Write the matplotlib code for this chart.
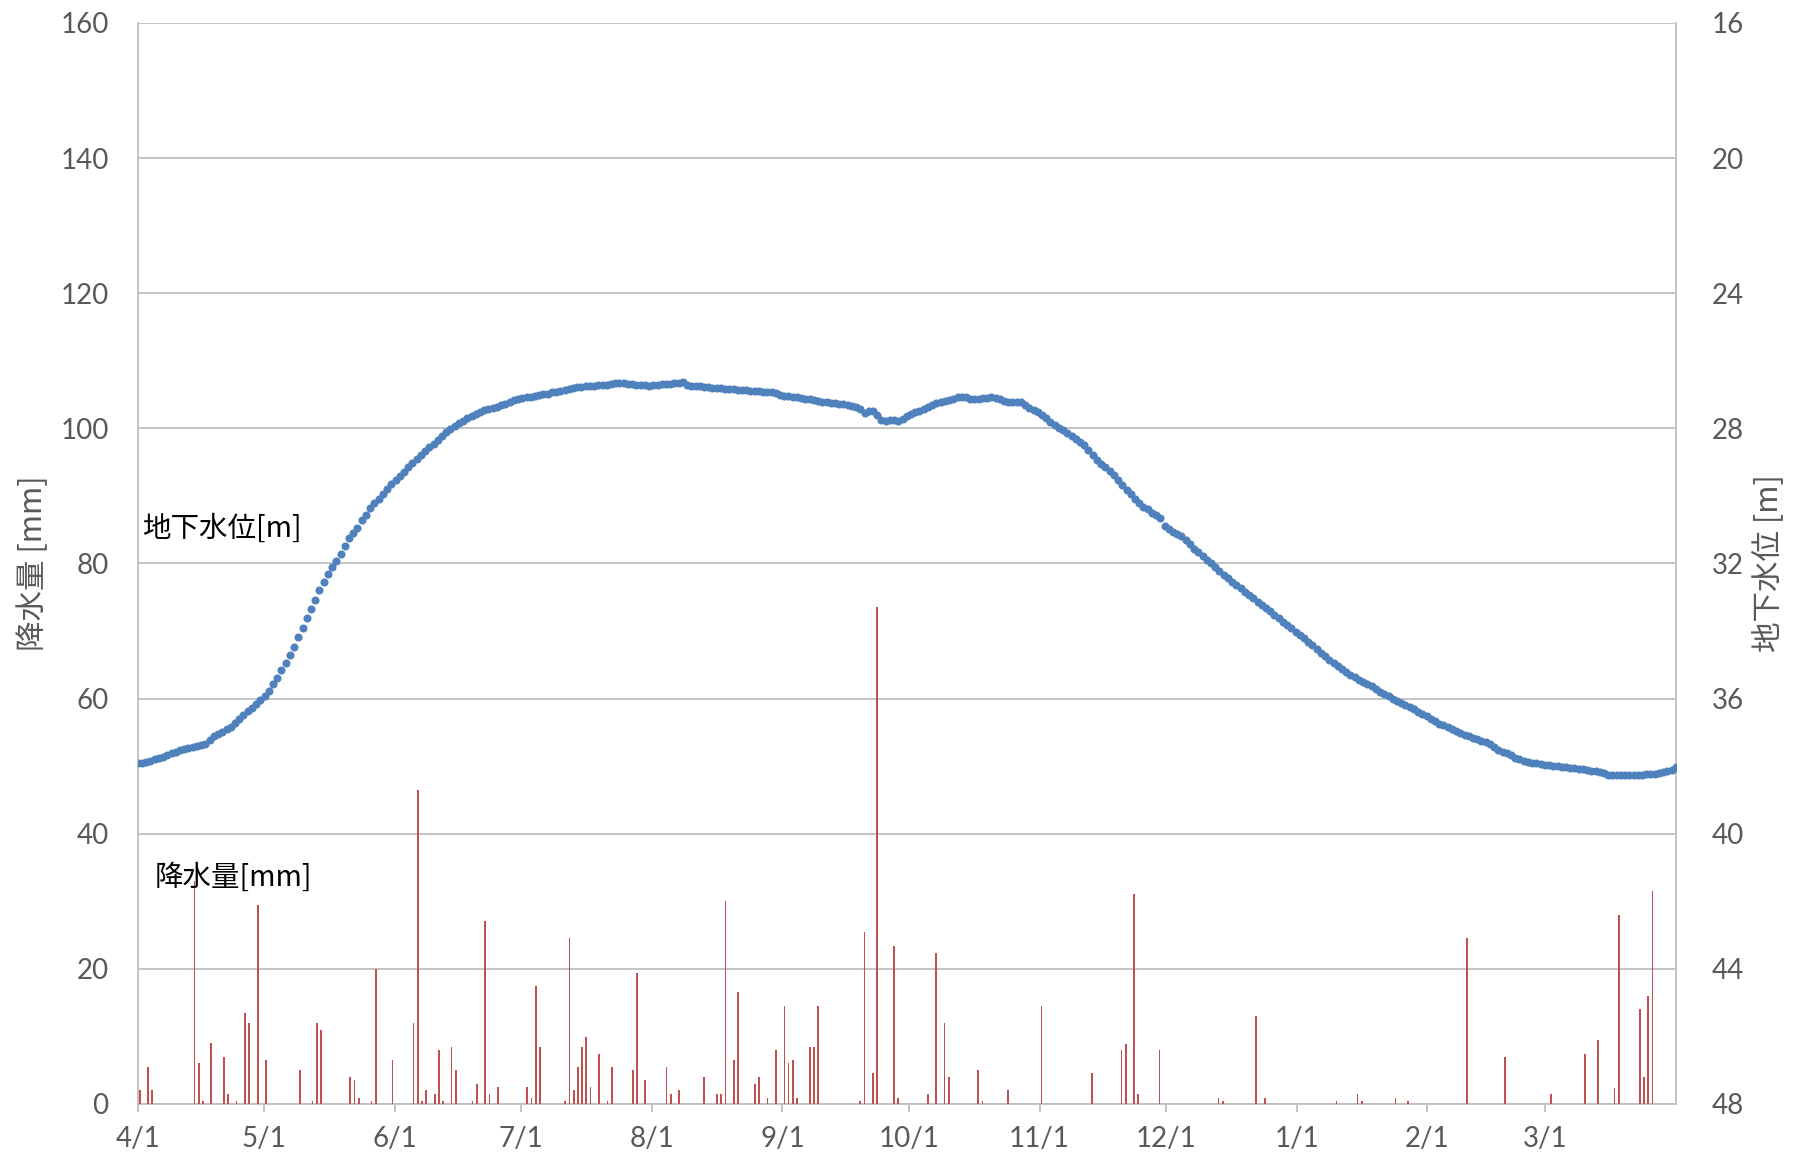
import numpy as np
import matplotlib
matplotlib.use("Agg")
import matplotlib.pyplot as plt

plt.rcParams['font.family'] = ['Lato', 'Noto Sans CJK JP', 'DejaVu Sans']

# month ticks (days from 4/1)
month_days = [0, 30, 61, 91, 122, 153, 183, 214, 244, 275, 306, 334]
month_labels = ['4/1', '5/1', '6/1', '7/1', '8/1', '9/1', '10/1', '11/1', '12/1', '1/1', '2/1', '3/1']

# daily precipitation (only rainy days): day index from 4/1, mm
rain_day = [0, 2, 3, 13, 14, 15, 17, 20, 21, 23, 25, 26, 28, 30, 38, 41, 42, 43, 50, 51,
            52, 55, 56, 60, 65, 66, 67, 68, 70, 71, 72, 74, 75, 79, 80, 82, 83, 85, 92, 93,
            94, 95, 101, 102, 103, 104, 105, 106, 107, 109, 111, 112, 117, 118, 120, 125, 126, 128, 134, 137,
            138, 139, 141, 142, 146, 147, 149, 151, 153, 154, 155, 156, 159, 160, 161, 171, 172, 174, 175, 179,
            180, 187, 189, 191, 192, 199, 200, 206, 214, 226, 233, 234, 236, 237, 242, 256, 257, 265, 267, 284,
            289, 290, 298, 301, 315, 324, 335, 343, 346, 350, 351, 356, 357, 358, 359]
rain_mm = [2.0, 5.5, 2.0, 33.0, 6.0, 0.4, 9.0, 7.0, 1.4, 0.4, 13.5, 12.0, 29.5, 6.5, 5.0, 0.4, 12.0, 10.9, 4.0, 3.5,
           0.9, 0.4, 20.0, 6.5, 12.0, 46.5, 0.4, 2.0, 1.4, 8.0, 0.4, 8.4, 5.0, 0.4, 2.9, 27.0, 1.4, 2.5, 2.5, 0.9,
           17.4, 8.4, 0.4, 24.5, 2.0, 5.5, 8.4, 9.9, 2.5, 7.4, 0.4, 5.5, 5.0, 19.4, 3.5, 5.5, 1.4, 2.0, 4.0, 1.4,
           1.4, 30.0, 6.5, 16.5, 2.9, 4.0, 0.9, 8.0, 14.5, 6.0, 6.5, 0.9, 8.4, 8.4, 14.5, 0.4, 25.5, 4.5, 73.5, 23.4,
           0.9, 1.4, 22.4, 12.0, 4.0, 5.0, 0.4, 2.0, 14.5, 4.5, 8.0, 8.9, 31.0, 1.4, 8.0, 0.9, 0.4, 13.0, 0.9, 0.4,
           1.4, 0.4, 0.9, 0.4, 24.5, 7.0, 1.4, 7.4, 9.4, 2.4, 27.9, 14.0, 4.0, 15.9, 31.5]

# daily groundwater level [m], 4/1 .. 3/31
gw_level = [
    37.92, 37.90, 37.87, 37.84, 37.80, 37.76, 37.72, 37.67, 37.62, 37.57,
    37.52, 37.49, 37.46, 37.43, 37.41, 37.38, 37.36, 37.24, 37.12, 37.05,
    36.98, 36.91, 36.83, 36.73, 36.62, 36.50, 36.38, 36.27, 36.16, 36.04,
    35.93, 35.78, 35.58, 35.38, 35.17, 34.96, 34.72, 34.46, 34.18, 33.90,
    33.62, 33.36, 33.08, 32.80, 32.54, 32.31, 32.12, 31.92, 31.71, 31.49,
    31.26, 31.10, 30.94, 30.72, 30.56, 30.36, 30.22, 30.08, 29.94, 29.80,
    29.65, 29.52, 29.40, 29.28, 29.16, 29.04, 28.92, 28.80, 28.68, 28.56,
    28.45, 28.34, 28.23, 28.12, 28.03, 27.94, 27.85, 27.77, 27.70, 27.63,
    27.57, 27.51, 27.47, 27.43, 27.40, 27.36, 27.32, 27.27, 27.22, 27.17,
    27.14, 27.11, 27.08, 27.06, 27.04, 27.02, 26.99, 26.97, 26.94, 26.92,
    26.89, 26.86, 26.83, 26.81, 26.79, 26.78, 26.76, 26.75, 26.74, 26.73,
    26.72, 26.71, 26.69, 26.67, 26.66, 26.67, 26.68, 26.70, 26.71, 26.72,
    26.73, 26.74, 26.72, 26.71, 26.70, 26.69, 26.68, 26.66, 26.65, 26.64,
    26.72, 26.74, 26.75, 26.76, 26.77, 26.78, 26.80, 26.81, 26.82, 26.83,
    26.84, 26.85, 26.86, 26.87, 26.88, 26.89, 26.90, 26.91, 26.92, 26.93,
    26.94, 26.95, 27.01, 27.04, 27.04, 27.06, 27.08, 27.10, 27.12, 27.14,
    27.17, 27.19, 27.22, 27.23, 27.24, 27.26, 27.27, 27.28, 27.31, 27.34,
    27.38, 27.44, 27.54, 27.50, 27.48, 27.62, 27.74, 27.77, 27.76, 27.76,
    27.78, 27.72, 27.65, 27.58, 27.53, 27.48, 27.44, 27.38, 27.30, 27.26,
    27.22, 27.19, 27.16, 27.12, 27.08, 27.06, 27.08, 27.12, 27.13, 27.14,
    27.11, 27.09, 27.08, 27.10, 27.14, 27.20, 27.21, 27.21, 27.22, 27.23,
    27.30, 27.40, 27.47, 27.53, 27.60, 27.70, 27.80, 27.90, 27.98, 28.06,
    28.14, 28.23, 28.32, 28.41, 28.50, 28.65, 28.80, 28.94, 29.05, 29.16,
    29.27, 29.38, 29.53, 29.68, 29.82, 29.95, 30.08, 30.20, 30.32, 30.40,
    30.50, 30.58, 30.66, 30.90, 30.98, 31.06, 31.14, 31.20, 31.32, 31.44,
    31.56, 31.67, 31.78, 31.89, 32.00, 32.11, 32.22, 32.33, 32.44, 32.54,
    32.64, 32.74, 32.84, 32.94, 33.03, 33.13, 33.22, 33.32, 33.42, 33.52,
    33.62, 33.72, 33.82, 33.92, 34.02, 34.12, 34.22, 34.32, 34.42, 34.53,
    34.64, 34.75, 34.86, 34.95, 35.04, 35.13, 35.22, 35.30, 35.37, 35.44,
    35.51, 35.58, 35.64, 35.72, 35.80, 35.87, 35.94, 36.00, 36.06, 36.12,
    36.18, 36.25, 36.32, 36.39, 36.46, 36.53, 36.60, 36.68, 36.74, 36.79,
    36.85, 36.90, 36.96, 37.01, 37.07, 37.12, 37.16, 37.21, 37.25, 37.28,
    37.36, 37.44, 37.52, 37.58, 37.62, 37.68, 37.76, 37.80, 37.84, 37.87,
    37.90, 37.92, 37.94, 37.96, 37.97, 37.99, 38.01, 38.02, 38.04, 38.06,
    38.07, 38.09, 38.10, 38.12, 38.14, 38.16, 38.17, 38.21, 38.25, 38.26,
    38.26, 38.27, 38.27, 38.26, 38.26, 38.26, 38.25, 38.24, 38.23, 38.22,
    38.20, 38.18, 38.15, 38.12, 38.02,
]

n_days = 365
grid_col = '#BFBFBF'
text_col = '#595959'
cjk = ['Noto Sans CJK JP', 'DejaVu Sans']

fig = plt.figure(figsize=(18.01, 11.66), dpi=100)
ax = fig.add_axes([0.0765, 0.0533, 0.854, 0.927])

# precipitation bars
ax.bar(np.array(rain_day) + 0.45, rain_mm, width=0.42, color='#C0504D', lw=0, zorder=3)
ax.set_ylim(0, 160)
ax.set_yticks(np.arange(0, 161, 20))
ax.set_xlim(0, n_days)
ax.set_xticks(month_days)
ax.set_xticklabels(month_labels)
ax.grid(axis='y', color=grid_col, lw=1.3, zorder=0)
ax.set_axisbelow(True)
ax.tick_params(axis='y', length=0, labelsize=20, labelcolor=text_col, pad=21)
ax.tick_params(axis='x', length=6, color=grid_col, width=1.3, labelsize=20,
               labelcolor=text_col, pad=10)
for s in ['left', 'bottom']:
    ax.spines[s].set_color(grid_col)
    ax.spines[s].set_linewidth(1.3)
ax.spines['top'].set_visible(False)
ax.spines['right'].set_visible(False)
ax.set_ylabel('降水量 [mm]', fontsize=22, color=text_col, labelpad=8, family=cjk)

# groundwater level on inverted right axis
ax2 = ax.twinx()
x_gw = np.linspace(0, n_days, len(gw_level))
ax2.plot(x_gw, gw_level, 'o', ms=4.8, color='#4F81BD', mec='#4F81BD', zorder=4)
ax2.set_ylim(48, 16)
ax2.set_yticks(np.arange(16, 49, 4))
ax2.tick_params(axis='y', length=0, labelsize=20, labelcolor=text_col, pad=26)
for s in ['left', 'top', 'bottom']:
    ax2.spines[s].set_visible(False)
ax2.spines['right'].set_color(grid_col)
ax2.spines['right'].set_linewidth(1.3)
ax2.set_ylabel('地下水位 [m]', fontsize=22, color=text_col, labelpad=6, rotation=90,
               family=cjk)

# series labels
ax.text(0.003, 0.532, '地下水位[m]', transform=ax.transAxes, fontsize=20.5, color='black',
        va='center', ha='left', family=cjk)
ax.text(0.011, 0.209, '降水量[mm]', transform=ax.transAxes, fontsize=20.5, color='black',
        va='center', ha='left', family=cjk, zorder=5)

fig.savefig('out.png', dpi=100)
